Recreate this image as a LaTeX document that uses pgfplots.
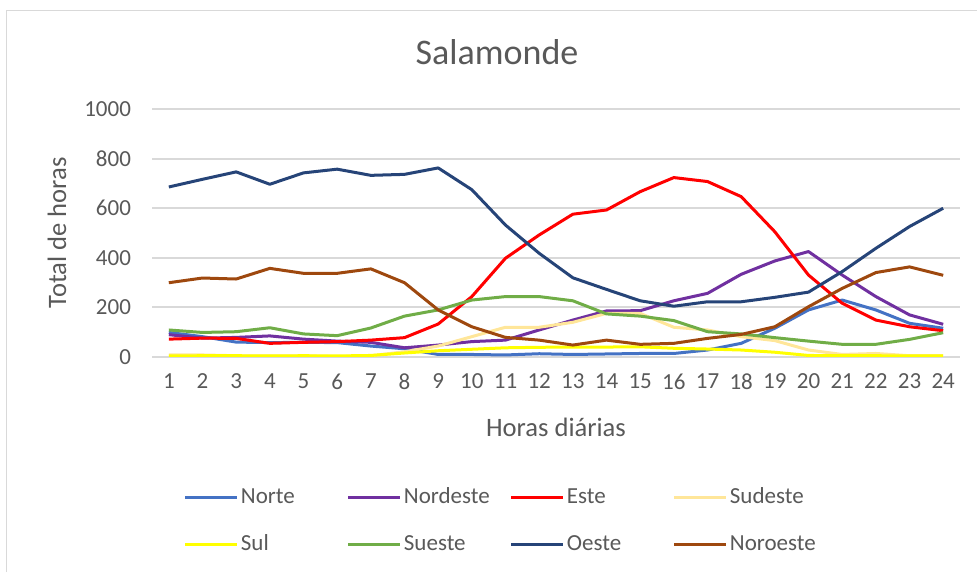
\documentclass[border=0pt]{standalone}
\usepackage{fontspec}
\setmainfont{Carlito}
\usepackage{pgfplots}
\pgfplotsset{compat=1.18}
\definecolor{txt}{HTML}{595959}
\definecolor{gridc}{HTML}{D9D9D9}
\definecolor{cNorte}{HTML}{4472C4}
\definecolor{cNordeste}{HTML}{7030A0}
\definecolor{cEste}{HTML}{FF0000}
\definecolor{cSudeste}{HTML}{FFE699}
\definecolor{cSul}{HTML}{FFFF00}
\definecolor{cSueste}{HTML}{70AD47}
\definecolor{cOeste}{HTML}{264478}
\definecolor{cNoroeste}{HTML}{9E480E}
\begin{document}
\begin{tikzpicture}
\useasboundingbox (0,0) rectangle (488.5pt,286pt);
\draw[gridc, line width=0.75pt] (3.35pt,0pt) -- (3.35pt,280.65pt) -- (488.5pt,280.65pt);
\node[txt, font=\fontsize{18}{21}\selectfont] at (248.5pt,260pt) {Salamonde};
\begin{axis}[
  at={(76pt,107.65pt)}, anchor=south west,
  scale only axis, width=404pt, height=123.7pt,
  xmin=0.5, xmax=24.5, ymin=0, ymax=1000,
  xtick={1,...,24}, ytick={0,200,...,1000},
  axis line style={draw=none},
  major tick length=0pt,
  ymajorgrids, grid style={gridc, line width=1pt},
  /pgf/number format/assume math mode=true,
  /pgf/number format/1000 sep={},
  ticklabel style={txt, font=\fontsize{11.5}{13}\selectfont},
  yticklabel style={xshift=-7pt},
  xticklabel style={yshift=-5pt},
  xlabel={Horas diárias}, ylabel={Total de horas},
  label style={txt, font=\fontsize{13.3}{15}\selectfont},
  xlabel style={at={(axis description cs:0.5,-0.284)}, anchor=center},
  ylabel style={at={(axis description cs:-0.1176,0.5)}, anchor=center, rotate=0},
  every axis plot/.append style={line width=1.5pt, no markers, line join=round},
  legend columns=4,
  legend style={at={(axis description cs:0.443,-0.664)}, anchor=center, draw=none,
    font=\fontsize{11.5}{13}\selectfont, text=txt,
    /tikz/every even column/.append style={column sep=0pt},
    row sep=12pt,
    nodes={text width=52pt, align=left, inner sep=1pt}},
  legend image code/.code={\draw[#1] (0pt,0pt) -- (26pt,0pt);},
]
\addplot[cNorte] coordinates {(1,98)(2,81)(3,59)(4,57)(5,58)(6,57)(7,43)(8,32)(9,9)(10,9)(11,7)(12,12)(13,9)(14,11)(15,13)(16,13)(17,27)(18,54)(19,115)(20,189)(21,229)(22,189)(23,135)(24,115)};
\addlegendentry{Norte}
\addplot[cNordeste] coordinates {(1,89)(2,75)(3,78)(4,84)(5,71)(6,63)(7,58)(8,36)(9,47)(10,61)(11,67)(12,108)(13,148)(14,185)(15,186)(16,226)(17,256)(18,333)(19,387)(20,425)(21,330)(22,243)(23,169)(24,131)};
\addlegendentry{Nordeste}
\addplot[cEste] coordinates {(1,71)(2,75)(3,74)(4,54)(5,58)(6,61)(7,67)(8,77)(9,132)(10,243)(11,398)(12,492)(13,576)(14,593)(15,667)(16,724)(17,708)(18,647)(19,505)(20,330)(21,216)(22,148)(23,121)(24,105)};
\addlegendentry{Este}
\addplot[cSudeste] coordinates {(1,7)(2,7)(3,4)(4,3)(5,4)(6,1)(7,4)(8,20)(9,43)(10,81)(11,119)(12,119)(13,139)(14,175)(15,175)(16,119)(17,108)(18,81)(19,65)(20,27)(21,9)(22,13)(23,4)(24,4)};
\addlegendentry{Sudeste}
\addplot[cSul] coordinates {(1,3)(2,4)(3,4)(4,3)(5,4)(6,3)(7,5)(8,15)(9,24)(10,30)(11,36)(12,38)(13,39)(14,39)(15,40)(16,34)(17,31)(18,27)(19,18)(20,5)(21,4)(22,4)(23,3)(24,3)};
\addlegendentry{Sul}
\addplot[cSueste] coordinates {(1,108)(2,98)(3,101)(4,117)(5,92)(6,85)(7,116)(8,164)(9,189)(10,229)(11,243)(12,243)(13,226)(14,173)(15,164)(16,146)(17,101)(18,92)(19,77)(20,63)(21,50)(22,50)(23,70)(24,97)};
\addlegendentry{Sueste}
\addplot[cOeste] coordinates {(1,686)(2,717)(3,747)(4,697)(5,743)(6,758)(7,733)(8,737)(9,763)(10,675)(11,532)(12,418)(13,319)(14,272)(15,226)(16,204)(17,222)(18,222)(19,240)(20,261)(21,344)(22,438)(23,526)(24,600)};
\addlegendentry{Oeste}
\addplot[cNoroeste] coordinates {(1,299)(2,318)(3,314)(4,357)(5,337)(6,337)(7,355)(8,299)(9,189)(10,121)(11,78)(12,67)(13,47)(14,67)(15,50)(16,54)(17,74)(18,90)(19,121)(20,202)(21,276)(22,340)(23,363)(24,329)};
\addlegendentry{Noroeste}
\end{axis}
\end{tikzpicture}
\end{document}
